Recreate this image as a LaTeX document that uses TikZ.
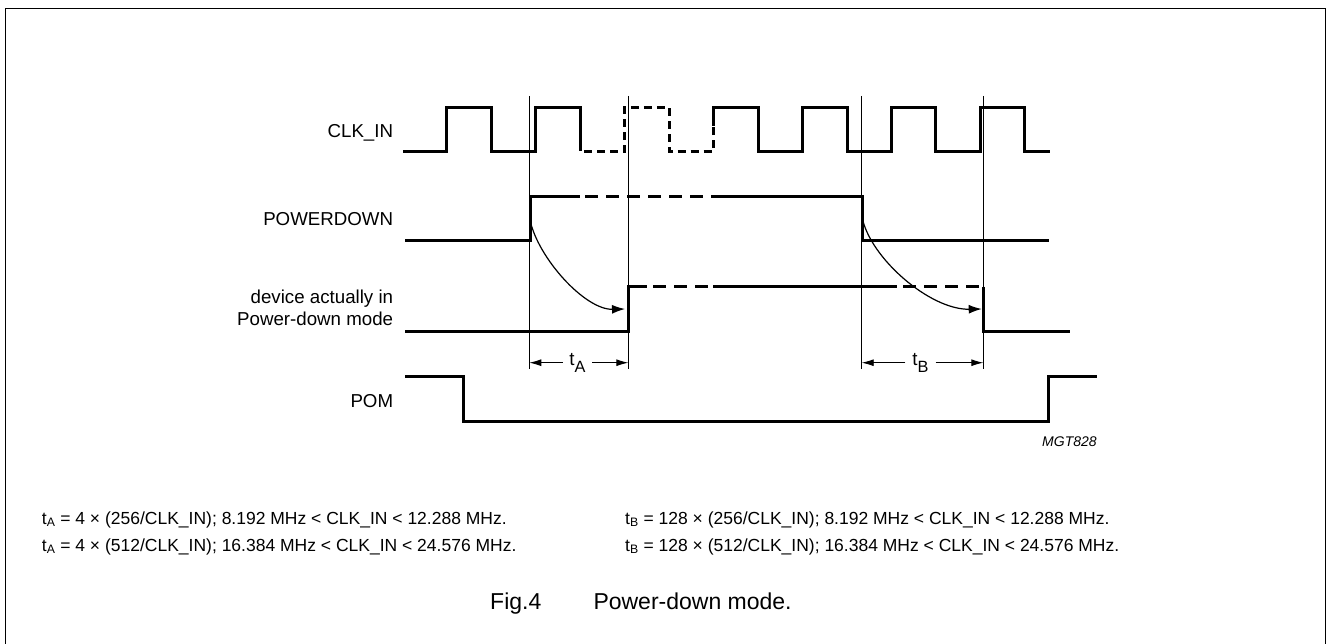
\documentclass[tikz,border=0pt]{standalone}
\usepackage{fontspec}
\setmainfont{Liberation Sans}
\usetikzlibrary{arrows.meta}
\newcommand{\bigsub}[1]{\raisebox{-7.5pt}{\fontsize{16.3}{18}\selectfont #1}}
\begin{document}
\begin{tikzpicture}[x=1pt,y=-1pt,
  wave/.style={line width=3pt,line join=miter},
  lwave/.style={wave,dash pattern=on 13pt off 8pt},
  cwave/.style={wave,dash pattern=on 8pt off 5pt},
  guide/.style={line width=0.8pt},
  lbl/.style={inner sep=0pt,anchor=base east,font=\fontsize{18.7}{22}\selectfont},
  note/.style={inner sep=0pt,anchor=base west,font=\fontsize{17.5}{21}\selectfont},
  curve/.style={line width=1.2pt,-{Latex[length=13pt,width=9pt]}},
  dimtip/.style={line width=0.9pt,-{Latex[length=12pt,width=7pt]}},
  tlbl/.style={inner ysep=0pt,anchor=base,font=\fontsize{18.7}{22}\selectfont}
]
\useasboundingbox (0,0) rectangle (1327,644);
% frame
\draw[line width=1.5pt] (5.5,644) -- (5.5,8.5) -- (1325.5,8.5) -- (1325.5,644);

% labels
\node[lbl] (clk) at (393.3,137.3) {CLK\_IN};
\node[lbl] (pd) at (393.3,226) {POWERDOWN};
\node[lbl] (dev1) at (393.3,303.3) {device actually in};
\node[lbl] (dev2) at (393.3,325) {Power-down mode};
\node[lbl] (pom) at (393.3,407.3) {POM};

% CLK_IN
\draw[wave] (403,151.5) -- (446.7,151.5) -- (446.7,107.3) -- (491,107.3) -- (491,151.5)
  -- (535,151.5) -- (535,107.3) -- (580,107.3) -- (580,151.5);
\draw[cwave] (584,151.5) -- (624.5,151.5) -- (624.5,107.3) -- (669,107.3) -- (669,151.5)
  -- (713.3,151.5) -- (713.3,126);
\draw[wave] (713.3,126) -- (713.3,107.3) -- (758,107.3) -- (758,151.5) -- (802,151.5)
  -- (802,107.3) -- (847,107.3) -- (847,151.5) -- (891,151.5) -- (891,107.3)
  -- (935,107.3) -- (935,151.5) -- (980,151.5) -- (980,107.3) -- (1024,107.3)
  -- (1024,151.5) -- (1050,151.5);

% POWERDOWN
\draw[wave] (405,241) -- (530,241) -- (530,196.7) -- (580,196.7);
\draw[lwave] (585,196.7) -- (713,196.7);
\draw[wave] (713,196.7) -- (862,196.7) -- (862,241) -- (1049,241);

% device actually in power-down mode
\draw[wave] (405,331) -- (628.3,331) -- (628.3,286.7) -- (647,286.7);
\draw[lwave] (653,286.7) -- (713,286.7);
\draw[wave] (713,286.7) -- (897,286.7);
\draw[lwave] (903,286.7) -- (983.3,286.7);
\draw[wave] (983.3,286.7) -- (983.3,331) -- (1070,331);

% POM
\draw[wave] (405,376.7) -- (463,376.7) -- (463,421) -- (1048.3,421) -- (1048.3,376.7) -- (1096.7,376.7);

% guide lines
\coordinate (g1t) at (529.3,96);  \coordinate (g1b) at (529.3,369);
\coordinate (g2t) at (628.3,96);  \coordinate (g2b) at (628.3,369);
\coordinate (g3t) at (861.7,96);  \coordinate (g3b) at (861.7,369);
\coordinate (g4t) at (983.3,96);  \coordinate (g4b) at (983.3,369);
\draw[guide] (g1t) -- (g1b);
\draw[guide] (g2t) -- (g2b);
\draw[guide] (g3t) -- (g3b);
\draw[guide] (g4t) -- (g4b);

% causal arrows
\coordinate (pdA) at (530,220);   \coordinate (devA) at (625,309);
\coordinate (pdB) at (862,217);   \coordinate (devB) at (981.7,309);
\draw[curve] (pdA) .. controls (538,258) and (585,310) .. (devA);
\draw[curve] (pdB) .. controls (870,258) and (930,310) .. (devB);

% timing dimensions
\node[tlbl,inner xsep=6.5pt] (tA) at (577.5,365) {t\bigsub{A}};
\draw[dimtip] (tA.west) -- (tA.west -| g1t);
\draw[dimtip] (tA.east) -- (tA.east -| g2t);
\node[tlbl,inner xsep=7pt] (tB) at (920.5,365) {t\bigsub{B}};
\draw[dimtip] (tB.west) -- (tB.west -| g3t);
\draw[dimtip] (tB.east) -- (tB.east -| g4t);

\node[inner sep=0pt,anchor=base west,font=\fontsize{14}{16}\selectfont\itshape] (mgt) at (1042,446) {MGT828};

% notes
\node[note] (n1) at (41.7,524) {t\textsubscript{A} = 4 × (256/CLK\_IN); 8.192 MHz < CLK\_IN < 12.288 MHz.};
\node[note] (n2) at (41.7,551) {t\textsubscript{A} = 4 × (512/CLK\_IN); 16.384 MHz < CLK\_IN < 24.576 MHz.};
\node[note] (n3) at (625,524) {t\textsubscript{B} = 128 × (256/CLK\_IN); 8.192 MHz < CLK\_IN < 12.288 MHz.};
\node[note] (n4) at (625,551) {t\textsubscript{B} = 128 × (512/CLK\_IN); 16.384 MHz < CLK\_IN < 24.576 MHz.};

% caption
\node[inner sep=0pt,anchor=base west,font=\fontsize{23}{27}\selectfont] (fig) at (490,609.5) {Fig.4};
\node[inner sep=0pt,anchor=base west,font=\fontsize{23}{27}\selectfont] (cap) at (593.3,609.5) {Power-down mode.};
\end{tikzpicture}
\end{document}
